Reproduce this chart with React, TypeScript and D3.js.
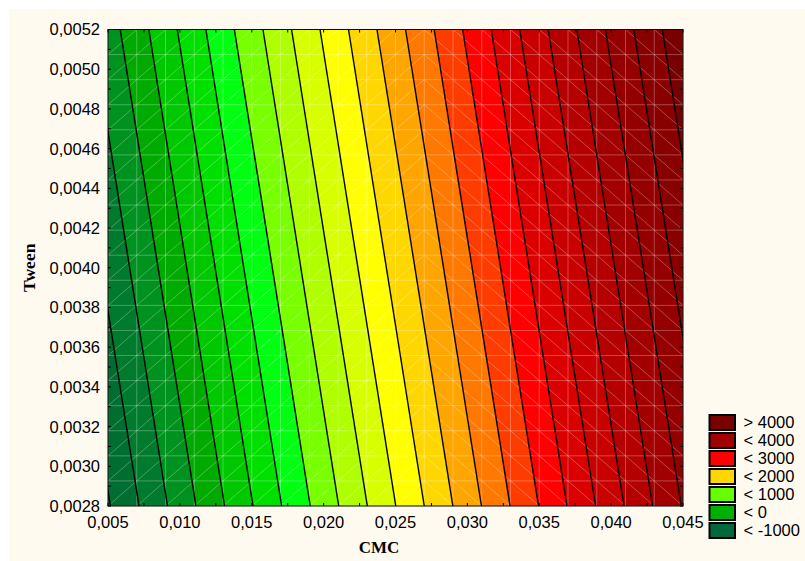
import React from "react";
import * as d3 from "d3";

// axis ticks
const cmcTicks = [0.005, 0.01, 0.015, 0.02, 0.025, 0.03, 0.035, 0.04, 0.045];
const tweenTicks = [0.0028, 0.003, 0.0032, 0.0034, 0.0036, 0.0038, 0.004, 0.0042, 0.0044, 0.0046, 0.0048, 0.005, 0.0052];

// contour levels; CMC where each straight line would meet Tween 0,0052 (top) and 0,0028 (bottom)
const levels = [-1000, -750, -500, -250, 0, 250, 500, 750, 1000, 1250, 1500, 1750, 2000, 2250, 2500, 2750, 3000, 3250, 3500, 3750, 4000, 4250, 4500];
const cmcAtTop = [-0.00011, 0.00188, 0.00387, 0.00585, 0.00784, 0.00982, 0.01181, 0.01379, 0.01578, 0.01777, 0.01975, 0.02173, 0.02371, 0.0257, 0.02769, 0.02967, 0.03166, 0.03364, 0.03562, 0.03761, 0.0396, 0.04158, 0.04356];
const cmcAtBottom = [0.00517, 0.00716, 0.00914, 0.01112, 0.01311, 0.01509, 0.01708, 0.01907, 0.02105, 0.02304, 0.02502, 0.027, 0.02899, 0.03098, 0.03297, 0.03495, 0.03693, 0.03892, 0.0409, 0.04289, 0.04488, 0.04686, 0.04884];

// fill of each band, lowest first (below -1000 ... above 4500)
const bandColors = ["#00663A", "#006E30", "#007A2C", "#00921E", "#00AA00", "#00C800", "#00E000", "#00FF10", "#78FF00", "#B0FF00", "#D8FF00", "#FFFF00", "#FFD700", "#FFA500", "#FF7800", "#FF3C00", "#FF0000", "#DA0000", "#C80000", "#B40000", "#A20000", "#940000", "#880000", "#780000"];

const legendLabels = ["> 4000", "< 4000", "< 3000", "< 2000", "< 1000", "< 0", "< -1000"];
const legendColors = ["#7A0000", "#A00000", "#FF0000", "#FFD700", "#66FF00", "#00B000", "#00683A"];

const W = 805, H = 561;
const m = { left: 108, right: 683, top: 29.5, bottom: 506 };

const fmt = (v: number, d: number) => v.toFixed(d).replace(".", ",");

export default function App() {
  const x = d3.scaleLinear().domain([0.005, 0.045]).range([m.left, m.right]);
  const y = d3.scaleLinear().domain([0.0028, 0.0052]).range([m.bottom, m.top]);
  const line = d3.line<[number, number]>();

  const lines: [number, number][][] = levels.map((_, i) => [
    [x(cmcAtTop[i]), y(0.0052)],
    [x(cmcAtBottom[i]), y(0.0028)],
  ]);

  // area to the right of each line, painted lowest level first
  const far = 120;
  const bands = lines.map(
    (pts) => line(pts) + `L${m.right + far},${m.bottom + far}L${m.right + far},${m.top - far}Z`
  );

  // light mesh of the surface
  const colStep = (m.right - m.left) / 20;
  const rowStep = (m.bottom - m.top) / 19;
  const cols = d3.range(21).map((i) => m.left + i * colStep);
  const rows = d3.range(20).map((j) => m.top + j * rowStep);
  const split = 11;

  const minorY = d3.range(0.0028, 0.00521, 0.0001);
  const minorX = d3.range(0.005, 0.0451, 0.0025);

  return (
    <svg width={W} height={H} style={{ position: "absolute", left: 0, top: 0 }}>
      <rect x={0} y={0} width={W} height={H} fill="#fff" />
      <rect x={9} y={9} width={W - 9} height={H - 9} fill="#FFFAF0" />
      <defs>
        <clipPath id="plot">
          <rect x={m.left} y={m.top} width={m.right - m.left} height={m.bottom - m.top} />
        </clipPath>
      </defs>
      <g clipPath="url(#plot)">
        <rect x={m.left} y={m.top} width={m.right - m.left} height={m.bottom - m.top} fill={bandColors[0]} />
        {bands.map((d, i) => (
          <path key={i} d={d} fill={bandColors[i + 1]} />
        ))}
        <g stroke="#fff" strokeOpacity={0.28} strokeWidth={1}>
          {cols.map((c, i) => (
            <line key={"c" + i} x1={c} x2={c} y1={m.top} y2={m.bottom} />
          ))}
          {rows.map((r, j) => (
            <line key={"r" + j} x1={m.left} x2={m.right} y1={r} y2={r} />
          ))}
          {cols.slice(0, 20).map((c, i) =>
            rows.slice(0, 19).map((r, j) =>
              i < split ? (
                <line key={`d${i}-${j}`} x1={c} y1={r + rowStep} x2={c + colStep} y2={r} />
              ) : (
                <line key={`d${i}-${j}`} x1={c} y1={r} x2={c + colStep} y2={r + rowStep} />
              )
            )
          )}
        </g>
        {lines.map((pts, i) => (
          <path key={i} d={line(pts) || ""} fill="none" stroke="#000" strokeWidth={1.4} />
        ))}
      </g>
      <rect x={m.left} y={m.top} width={m.right - m.left} height={m.bottom - m.top} fill="none" stroke="#000" strokeWidth={1} />
      <g stroke="#000" strokeWidth={1}>
        {minorY.map((t, i) => (
          <g key={i}>
            <line x1={m.left} x2={m.left + 3} y1={y(t)} y2={y(t)} />
            <line x1={m.right} x2={m.right - 3} y1={y(t)} y2={y(t)} />
          </g>
        ))}
        {minorX.map((t, i) => (
          <g key={i}>
            <line x1={x(t)} x2={x(t)} y1={m.bottom} y2={m.bottom - 3} />
            <line x1={x(t)} x2={x(t)} y1={m.top} y2={m.top + 3} />
          </g>
        ))}
      </g>
      <g fontFamily="'Liberation Sans', Arial, sans-serif" fontSize={16.5} fill="#000">
        {tweenTicks.map((t) => (
          <text key={t} x={m.left - 8} y={y(t)} dy="0.36em" textAnchor="end">
            {fmt(t, 4)}
          </text>
        ))}
        {cmcTicks.map((t) => (
          <text key={t} x={x(t)} y={528} textAnchor="middle">
            {fmt(t, 3)}
          </text>
        ))}
      </g>
      <text x={379} y={553} textAnchor="middle" fontFamily="'Liberation Serif', 'Times New Roman', serif" fontWeight="bold" fontSize={17}>
        CMC
      </text>
      <text transform={`translate(35,${(m.top + m.bottom) / 2}) rotate(-90)`} textAnchor="middle" fontFamily="'Liberation Serif', 'Times New Roman', serif" fontWeight="bold" fontSize={17.5}>
        Tween
      </text>
      <g fontFamily="'Liberation Sans', Arial, sans-serif" fontSize={16.5}>
        {legendLabels.map((l, i) => (
          <g key={l} transform={`translate(709.5,${415 + i * 18})`}>
            <rect width={25.5} height={15} fill={legendColors[i]} stroke="#000" strokeWidth={2} />
            <text x={34} y={7.5} dy="0.36em">
              {l}
            </text>
          </g>
        ))}
      </g>
    </svg>
  );
}
